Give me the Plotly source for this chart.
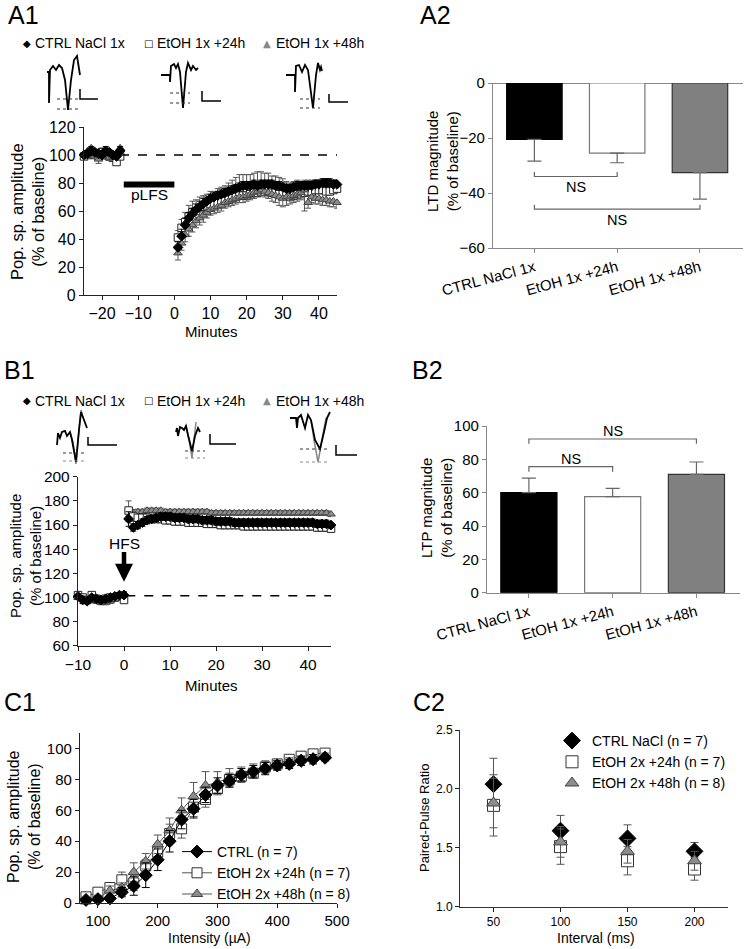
import plotly.graph_objects as go

W, H = 745, 949
FONT = "Arial, Liberation Sans, Helvetica, sans-serif"

# ---------------- A1: LTD time course ----------------
a1_base_min = [-25, -24, -23, -22, -21, -20, -19, -18, -17, -16, -15]
a1_post_min = list(range(1, 46))
a1_ctrl_base = [100, 101, 103, 102, 101, 100, 103, 102, 100, 99, 103]
a1_e24_base = [99, 100, 101, 100, 99, 102, 101, 99, 98, 95, 99]
a1_e48_base = [101, 103, 105, 100, 97, 99, 101, 98, 99, 101, 105]
a1_ctrl_post = [34, 42, 50, 55, 58, 61, 63, 65, 67, 69, 70, 71, 72, 73, 74, 75, 76, 77, 78, 78,
                78, 79, 78, 79, 79, 79, 79, 78, 78, 77, 76, 76, 77, 78, 78, 78, 78, 78, 79, 79,
                80, 80, 80, 79, 79]
a1_e24_post = [41, 48, 52, 56, 59, 60, 62, 63, 64, 65, 65, 66, 67, 67, 68, 69, 70, 71, 71, 71,
               72, 73, 73, 74, 74, 74, 73, 73, 72, 72, 71, 70, 71, 72, 72, 73, 74, 74, 75, 75,
               75, 74, 74, 75, 76]
a1_e48_post = [30, 37, 43, 47, 50, 53, 55, 57, 59, 61, 62, 63, 64, 66, 67, 68, 69, 70, 70, 71,
               72, 73, 74, 75, 74, 73, 72, 71, 70, 69, 70, 70, 71, 72, 73, 75, 66, 70, 69, 69,
               68, 68, 67, 67, 66]
a1_ctrl_err = [2, 2, 3, 2, 2, 2, 3, 2, 2, 3, 3,
               4, 5, 5, 4, 4, 4, 4, 4, 3, 3, 3, 3, 3, 3, 3, 3, 3, 3, 3, 3,
               3, 3, 3, 3, 3, 3, 3, 3, 3, 3, 3, 3, 3, 3, 3, 3, 3, 3, 3, 3,
               3, 3, 3, 3, 3]
a1_e24_err = [2, 2, 3, 3, 2, 3, 3, 3, 3, 6, 5,
              5, 6, 7, 8, 8, 8, 8, 8, 8, 9, 9, 10, 10, 11, 12, 13, 14, 15, 15, 15,
              14, 14, 15, 14, 13, 13, 12, 12, 12, 11, 10, 10, 10, 10, 9, 9, 8, 8, 7, 7,
              6, 6, 6, 6, 6]
a1_e48_err = [2, 2, 3, 2, 3, 2, 2, 2, 2, 3, 4,
              5, 5, 5, 5, 5, 5, 5, 5, 4, 4, 4, 4, 4, 4, 4, 4, 4, 4, 4, 4,
              4, 4, 4, 4, 4, 4, 5, 5, 6, 6, 6, 5, 5, 5, 5, 15, 4, 4, 4, 4,
              4, 4, 4, 4, 4]

# ---------------- A2: LTD magnitude ----------------
groups = ["CTRL NaCl 1x", "EtOH 1x +24h", "EtOH 1x +48h"]
a2_ltd = [-20.5, -25.5, -32.6]
a2_err = [7.9, 3.5, 9.6]

# ---------------- B1: LTP time course ----------------
b1_base_min = [-10, -9, -8, -7, -6, -5, -4, -3, -2, -1, 0]
b1_post_min = list(range(1, 46))
b1_ctrl_base = [101, 98, 97, 100, 99, 98, 99, 100, 101, 102, 102]
b1_e24_base = [102, 100, 98, 102, 99, 98, 99, 100, 100, 101, 98]
b1_e48_base = [100, 99, 98, 99, 97, 96, 96, 97, 99, 101, 103]
b1_ctrl_post = [165, 158, 160, 162, 164, 165, 166, 167, 167, 167, 166, 166, 166, 165, 165,
                165, 164, 164, 164, 163, 163, 163, 163, 162, 162, 162, 162, 162, 162, 162,
                162, 162, 162, 162, 162, 162, 162, 162, 162, 162, 162, 161, 161, 161, 160]
b1_e24_post = [172, 167, 166, 166, 166, 165, 165, 165, 164, 164, 163, 163, 163, 162, 162,
               162, 162, 161, 161, 161, 160, 160, 160, 160, 160, 159, 159, 159, 159, 159,
               159, 159, 159, 159, 159, 159, 159, 159, 159, 159, 159, 158, 158, 158, 157]
b1_e48_post = [167, 170, 171, 171, 172, 172, 172, 172, 171, 171, 171, 171, 171, 171, 171,
               171, 171, 171, 170, 170, 170, 170, 170, 170, 170, 170, 170, 170, 170, 170,
               170, 170, 170, 170, 170, 170, 170, 170, 170, 170, 170, 170, 170, 170, 169]
b1_ctrl_err = [2, 3, 2, 2, 2, 2, 2, 2, 2, 2, 2,
               6, 3, 3, 3, 3, 3, 3, 3, 3, 3, 3, 3, 3, 3, 3, 3, 3, 3, 3, 3,
               3, 3, 3, 3, 3, 3, 3, 3, 3, 3, 3, 3, 3, 3, 3, 3, 3, 3, 3, 3,
               3, 3, 3, 3, 3]
b1_e24_err = [3, 2, 2, 2, 2, 2, 2, 2, 2, 2, 2,
              8, 4, 3, 3, 3, 3, 3, 3, 3, 3, 3, 3, 3, 3, 3, 3, 3, 3, 3, 3,
              3, 3, 3, 3, 3, 3, 3, 3, 3, 3, 3, 3, 3, 3, 3, 3, 3, 3, 3, 3,
              3, 3, 3, 3, 3]
b1_e48_err = [2, 2, 2, 2, 2, 2, 2, 2, 2, 2, 2,
              4, 3, 2, 2, 2, 2, 2, 2, 2, 2, 2, 2, 2, 2, 2, 2, 2, 2, 2, 2,
              2, 2, 2, 2, 2, 2, 2, 2, 2, 2, 2, 2, 2, 2, 2, 2, 2, 2, 2, 2,
              2, 2, 2, 2, 2]

# ---------------- B2: LTP magnitude ----------------
b2_ltp = [60.0, 57.6, 71.0]
b2_err = [8.7, 5.0, 7.4]

# ---------------- C1: input/output ----------------
c1_int = [80, 100, 120, 140, 160, 180, 200, 220, 240, 260, 280, 300, 320, 340, 360, 380,
          400, 420, 440, 460, 480]
c1_ctrl = [2, 2.5, 3, 7, 11, 18, 28, 40, 54, 61, 70, 76, 79, 83, 85, 87, 89, 90, 92, 93, 94]
c1_e24 = [4, 7, 10, 15, 13, 24, 33, 45, 48, 62, 67, 74, 80, 82, 84, 88, 90, 93, 95, 96.5, 97]
c1_e48 = [1, 3, 8, 10, 20, 27, 38, 47, 60, 69, 76, 78, 81, 83, 86, 88, 89, 91, 93, 94, 95]
c1_ctrl_err = [1, 1.5, 2, 3, 6, 8, 7, 7, 6, 6, 5, 5, 4, 4, 4, 4, 3, 3, 3, 3, 2]
c1_e24_err = [2, 2, 3, 5, 5, 4, 5, 6, 6, 6, 5, 4, 4, 3, 3, 3, 3, 2, 2, 2, 2]
c1_e48_err = [1, 2, 3, 3, 6, 5, 6, 8, 8, 9, 9, 7, 6, 5, 4, 4, 3, 3, 2, 2, 2]
c1_names = ["CTRL (n = 7)", "EtOH 2x +24h (n = 7)", "EtOH 2x +48h (n = 8)"]

# ---------------- C2: paired-pulse ----------------
c2_int = [50, 100, 150, 200]
c2_ctrl = [2.04, 1.645, 1.58, 1.47]
c2_e24 = [1.86, 1.51, 1.39, 1.32]
c2_e48 = [1.88, 1.55, 1.47, 1.39]
c2_ctrl_err = [0.22, 0.13, 0.115, 0.075]
c2_e24_err = [0.26, 0.15, 0.12, 0.095]
c2_e48_err = [0.21, 0.13, 0.10, 0.08]
c2_names = ["CTRL NaCl (n = 7)", "EtOH 2x +24h (n = 7)", "EtOH 2x +48h (n = 8)"]

GRAY = "#8c8c8c"
DARK = "#444444"


def px(x, y):
    return x / W, 1 - y / H


def dom_x(a, b):
    return [a / W, b / W]


def dom_y(top, bottom):
    return [1 - bottom / H, 1 - top / H]


fig = go.Figure()

# ---------- A1 traces ----------
a1_x = a1_base_min + a1_post_min
series_a1 = [
    (a1_e24_base + a1_e24_post, a1_e24_err, "square", "white", "#222", "#555", True),
    (a1_e48_base + a1_e48_post, a1_e48_err, "triangle-up", GRAY, DARK, "#555", False),
    (a1_ctrl_base + a1_ctrl_post, a1_ctrl_err, "diamond", "black", "black", "black", True),
]
for ys, er, sym, fc, lc, ec, up in series_a1:
    zeros = [0] * len(er)
    fig.add_trace(go.Scatter(
        x=a1_x, y=ys, mode="markers", xaxis="x", yaxis="y", showlegend=False,
        marker=dict(symbol=sym, size=7.5, color=fc, line=dict(color=lc, width=1)),
        error_y=dict(type="data", symmetric=False, array=er if up else zeros,
                     arrayminus=zeros if up else er, color=ec, thickness=1, width=3),
        cliponaxis=False, hoverinfo="skip"))

# ---------- A2 bars ----------
fig.add_trace(go.Bar(
    x=[0, 1, 2], y=a2_ltd, xaxis="x2", yaxis="y2", width=0.67, showlegend=False,
    marker=dict(color=["black", "white", "#808080"], line=dict(color=["black", "#777", "#333"], width=1.2)),
    error_y=dict(type="data", symmetric=False, array=[0, 0, 0], arrayminus=a2_err,
                 color="#666", thickness=1.2, width=7), hoverinfo="skip"))

# ---------- B1 traces ----------
b1_x = b1_base_min + b1_post_min
series_b1 = [
    (b1_e48_base + b1_e48_post, b1_e48_err, "triangle-up", GRAY, DARK, "#555"),
    (b1_e24_base + b1_e24_post, b1_e24_err, "square", "white", "#222", "#555"),
    (b1_ctrl_base + b1_ctrl_post, b1_ctrl_err, "diamond", "black", "black", "black"),
]
for ys, er, sym, fc, lc, ec in series_b1:
    fig.add_trace(go.Scatter(
        x=b1_x, y=ys, mode="markers", xaxis="x3", yaxis="y3", showlegend=False,
        marker=dict(symbol=sym, size=7.5, color=fc, line=dict(color=lc, width=1)),
        error_y=dict(type="data", array=er, color=ec, thickness=1, width=3),
        cliponaxis=False, hoverinfo="skip"))

# ---------- B2 bars ----------
fig.add_trace(go.Bar(
    x=[0, 1, 2], y=b2_ltp, xaxis="x4", yaxis="y4", width=0.67, showlegend=False,
    marker=dict(color=["black", "white", "#808080"], line=dict(color=["black", "#777", "#333"], width=1.2)),
    error_y=dict(type="data", symmetric=False, array=b2_err, arrayminus=[0, 0, 0],
                 color="#666", thickness=1.2, width=7), hoverinfo="skip"))

# ---------- C1 traces ----------
c1_series = [
    (c1_e24, c1_e24_err, "square", "white", "#333", "#555", c1_names[1]),
    (c1_e48, c1_e48_err, "triangle-up", GRAY, DARK, "#555", c1_names[2]),
    (c1_ctrl, c1_ctrl_err, "diamond", "black", "black", "black", c1_names[0]),
]
for ys, er, sym, fc, lc, ec, nm in c1_series:
    fig.add_trace(go.Scatter(
        x=c1_int, y=ys, mode="lines+markers", xaxis="x5", yaxis="y5", name=nm,
        legend="legend", legendrank={c1_names[0]: 1, c1_names[1]: 2, c1_names[2]: 3}[nm],
        line=dict(color=ec, width=1),
        marker=dict(symbol=sym, size=10, color=fc, line=dict(color=lc, width=1)),
        error_y=dict(type="data", array=er, color=ec, thickness=1, width=4),
        cliponaxis=False, hoverinfo="skip"))

# ---------- C2 traces ----------
c2_series = [
    (c2_ctrl, c2_ctrl_err, "diamond", "black", "black", c2_names[0], 13),
    (c2_e24, c2_e24_err, "square", "white", "#333", c2_names[1], 12),
    (c2_e48, c2_e48_err, "triangle-up", GRAY, DARK, c2_names[2], 12),
]
for ys, er, sym, fc, lc, nm, sz in c2_series:
    fig.add_trace(go.Scatter(
        x=c2_int, y=ys, mode="markers", xaxis="x6", yaxis="y6", name=nm,
        legend="legend2",
        marker=dict(symbol=sym, size=sz, color=fc, line=dict(color=lc, width=1)),
        error_y=dict(type="data", array=er, color="#555", thickness=1, width=4),
        hoverinfo="skip"))


# ---------- axes ----------
def tf(size):
    return dict(family=FONT, size=size, color="black")


def ax(**kw):
    base = dict(showgrid=False, zeroline=False, showline=True, linecolor="#222", linewidth=1.3,
                ticks="outside", ticklen=4, tickwidth=1.2, tickcolor="#222", tickfont=tf(15),
                automargin=False)
    base.update(kw)
    return base


fig.update_layout(
    template="none",
    width=W, height=H, margin=dict(l=0, r=0, t=0, b=0, autoexpand=False),
    paper_bgcolor="white", plot_bgcolor="white",
    font=dict(family=FONT, color="black"),
    hovermode=False,
    xaxis=ax(domain=dom_x(84, 337), anchor="y", range=[-25, 45], tickvals=[-20, -10, 0, 10, 20, 30, 40],
             tickfont=tf(16)),
    yaxis=ax(domain=dom_y(127, 295), anchor="x", range=[0, 120], dtick=20, tickfont=tf(16)),
    xaxis2=ax(domain=dom_x(493, 743), anchor="y2", range=[-0.5, 2.52], tickvals=[0, 1, 2],
              ticktext=groups, tickangle=-15, linecolor="#888", tickcolor="#888"),
    yaxis2=ax(domain=dom_y(83, 248), anchor="x2", range=[-60, 0], dtick=20, linecolor="#888",
              tickcolor="#888", zeroline=True, zerolinecolor="#888", zerolinewidth=1.3),
    xaxis3=ax(domain=dom_x(78, 331), anchor="y3", range=[-10, 45], tickvals=[-10, 0, 10, 20, 30, 40],
              tickfont=tf(15.5)),
    yaxis3=ax(domain=dom_y(476.7, 645.9), anchor="x3", range=[60, 200], dtick=20, tickfont=tf(15.5)),
    xaxis4=ax(domain=dom_x(487, 740), anchor="y4", range=[-0.5, 2.52], tickvals=[0, 1, 2],
              ticktext=groups, tickangle=-15, linecolor="#888", tickcolor="#888"),
    yaxis4=ax(domain=dom_y(426, 592.7), anchor="x4", range=[0, 100], dtick=20, linecolor="#888",
              tickcolor="#888"),
    xaxis5=ax(domain=dom_x(80, 337), anchor="y5", range=[70, 500], tickvals=[100, 200, 300, 400, 500]),
    yaxis5=ax(domain=dom_y(733, 903), anchor="x5", range=[0, 110], tickvals=[0, 20, 40, 60, 80, 100]),
    xaxis6=ax(domain=dom_x(460, 728), anchor="y6", range=[25, 225], tickvals=[50, 100, 150, 200],
              tickfont=tf(12), linecolor="#333", linewidth=1),
    yaxis6=ax(domain=dom_y(730, 906.7), anchor="x6", range=[1.0, 2.5], tickvals=[1.0, 1.5, 2.0, 2.5],
              tickformat=".1f", tickfont=tf(12), linecolor="#333", linewidth=1),
    legend=dict(x=177 / W, y=1 - 836 / H, xanchor="left", yanchor="top", bgcolor="rgba(0,0,0,0)",
                font=dict(family=FONT, size=14), tracegroupgap=0, itemwidth=30),
    legend2=dict(x=552 / W, y=1 - 725 / H, xanchor="left", yanchor="top", bgcolor="rgba(0,0,0,0)",
                 font=dict(family=FONT, size=14), itemwidth=30),
)

shapes = []
annotations = []


def text_px(text, x, y, size, angle=0, xanchor="center", color="black", family=FONT):
    xx, yy = px(x, y)
    annotations.append(dict(text=text, xref="paper", yref="paper", x=xx, y=yy, showarrow=False,
                            xanchor=xanchor, yanchor="middle", textangle=angle,
                            font=dict(family=family, size=size, color=color)))


# axis titles placed as text
text_px("Pop. sp. amplitude<br>(% of baseline)", 28, 212, 16.5, angle=-90)
text_px("Minutes", 211, 332, 15)
text_px("LTD magnitude<br>(% of baseline)", 442, 162, 15, angle=-90)
text_px("Pop. sp. amplitude<br>(% of baseline)", 25, 556, 15, angle=-90)
text_px("Minutes", 211, 685, 15)
text_px("LTP magnitude<br>(% of baseline)", 436, 508, 15, angle=-90)
text_px("Pop. sp. amplitude<br>(% of baseline)", 24, 817, 16, angle=-90)
text_px("Intensity (µA)", 209, 938, 14)
text_px("Paired-Pulse Ratio", 424, 818, 13, angle=-90)
text_px("Interval (ms)", 596, 938, 14)

# reference lines / pLFS bar / brackets
shapes.append(dict(type="line", xref="x", yref="y", x0=-25, x1=45, y0=100, y1=100,
                   line=dict(color="black", width=1.5, dash="dash")))
shapes.append(dict(type="line", xref="x", yref="y", x0=-14, x1=0, y0=79, y1=79,
                   line=dict(color="black", width=6)))
annotations.append(dict(text="pLFS", xref="x", yref="y", x=-7, y=72, showarrow=False,
                        font=dict(family=FONT, size=15.5)))
shapes.append(dict(type="line", xref="x3", yref="y3", x0=0.5, x1=45, y0=101.5, y1=101.5,
                   line=dict(color="black", width=1.5, dash="dash")))
annotations.append(dict(text="HFS", xref="x3", yref="y3", x=0, y=145, showarrow=False,
                        font=dict(family=FONT, size=15.5)))
annotations.append(dict(text="", xref="x3", yref="y3", x=0, y=113, ax=0, ay=139,
                        axref="x3", ayref="y3", showarrow=True, arrowhead=2, arrowsize=0.8,
                        arrowwidth=4.5, arrowcolor="black"))


def bracket(xr, yr, x0, x1, y, tip, label, ly):
    shapes.append(dict(type="path", xref=xr, yref=yr,
                       path=f"M {x0},{tip} L {x0},{y} L {x1},{y} L {x1},{tip}",
                       line=dict(color="#666", width=1.2)))
    annotations.append(dict(text=label, xref=xr, yref=yr, x=(x0 + x1) / 2, y=ly, showarrow=False,
                            font=dict(family=FONT, size=14.5)))


bracket("x2", "y2", 0, 1, -34, -32.4, "NS", -37.8)
bracket("x2", "y2", 0, 2, -45.9, -44.3, "NS", -49.8)
bracket("x4", "y4", 0, 1, 75.6, 72.6, "NS", 80.3)
bracket("x4", "y4", 0, 2, 92.2, 89.4, "NS", 96.8)


# ---- decorative sample traces (insets) ----
def pathp(pts):
    return "M " + " L ".join(f"{x / W:.5f},{1 - y / H:.5f}" for x, y in pts)


def pline(pts, color="black", width=1.8, dash=None):
    ln = dict(color=color, width=width)
    if dash:
        ln["dash"] = dash
    shapes.append(dict(type="path", xref="paper", yref="paper", path=pathp(pts), line=ln))


def scale_bar(x, y0, y1, x1):
    pline([(x, y0), (x, y1), (x1, y1)], width=1.5)


def dashes(x0, x1, y, color="#333"):
    pline([(x0, y), (x1, y)], color=color, width=1, dash="3px,3px")


# A1 insets
pline([(47, 72), (49, 72), (49, 103), (50, 70), (53, 66), (56, 70), (59, 65), (62, 68), (65, 80),
       (68, 110), (71, 80), (74, 60), (77, 56), (80, 75)])
dashes(57, 78, 99)
dashes(57, 78, 109)
scale_bar(80, 89, 99, 98)
pline([(161, 75), (170, 75), (170, 82), (171, 66), (174, 64), (176, 68), (178, 64), (180, 72),
       (183, 108), (186, 72), (188, 63), (191, 70), (193, 66), (196, 70), (198, 68)])
dashes(170, 190, 93)
dashes(170, 190, 103)
scale_bar(202, 91, 101, 221)
pline([(286, 75), (295, 75), (295, 92), (296, 66), (299, 65), (302, 72), (305, 65), (308, 70),
       (313, 108), (316, 75), (318, 63), (320, 70), (321, 67), (322, 71)])
dashes(300, 320, 99)
dashes(300, 320, 108)
scale_bar(329, 94, 102, 348)

# B1 insets (black = baseline, gray = post-HFS)
pline([(70, 432), (73, 442), (76, 464), (79, 430), (81, 410), (83, 418)], color="#888", width=1.5)
pline([(57, 445), (58, 433), (60, 438), (62, 432), (65, 431), (67, 436), (70, 432), (72, 440),
       (76, 462), (79, 430), (81, 412), (84, 420), (87, 428)])
dashes(63, 84, 453)
dashes(63, 84, 461, color="#888")
scale_bar(88, 437, 445, 117)
pline([(186, 426), (189, 440), (192, 458), (194, 440), (196, 422)], color="#888", width=1.5)
pline([(176, 432), (177, 428), (178, 436), (180, 427), (182, 428), (184, 430), (186, 426),
       (188, 435), (192, 451), (195, 436), (198, 428), (200, 432)])
dashes(185, 205, 451)
dashes(185, 205, 458, color="#888")
scale_bar(210, 434, 444, 236)
pline([(311, 420), (314, 440), (318, 462), (322, 440), (326, 418)], color="#888", width=1.5)
pline([(290, 418), (296, 418), (297, 428), (298, 418), (301, 415), (305, 428), (308, 415),
       (311, 420), (315, 440), (320, 449), (324, 432), (327, 418), (330, 412)])
dashes(300, 330, 449)
dashes(300, 330, 462, color="#888")
scale_bar(336, 445, 455, 357)


# top legends of A1 / B1 as text
def top_legend(ypx):
    items = [("◆", "black", 27, "CTRL NaCl 1x", 33),
             ("□", "black", 148, "EtOH 1x +24h", 155),
             ("▲", "#888", 267, "EtOH 1x +48h", 274)]
    for sym, col, sx, txt, tx in items:
        text_px(sym, sx, ypx, 10, color=col, family="DejaVu Sans")
        text_px(txt, tx, ypx, 14, xanchor="left")


top_legend(43)
top_legend(401)

# panel labels
for lab, lx, ly in [("A1", 6, 15), ("A2", 418, 15), ("B1", 2, 370), ("B2", 410, 370),
                    ("C1", 2, 702), ("C2", 411, 702)]:
    text_px(lab, lx, ly, 25, xanchor="left")

fig.update_layout(shapes=shapes, annotations=annotations)
fig.write_html("out.html", config={"displayModeBar": False},
               post_script="document.body.style.margin='0';document.body.style.padding='0';")
